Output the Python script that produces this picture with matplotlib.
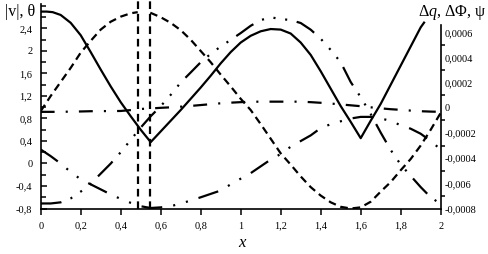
import numpy as np
import matplotlib
matplotlib.use('Agg')
import matplotlib.pyplot as plt
from matplotlib.ticker import FixedLocator, FixedFormatter, NullFormatter

plt.rcParams['font.family'] = ['Liberation Serif', 'DejaVu Serif']
plt.rcParams['mathtext.fontset'] = 'custom'
plt.rcParams['mathtext.it'] = 'Liberation Serif:italic'
plt.rcParams['mathtext.rm'] = 'Liberation Serif'
plt.rcParams['lines.scale_dashes'] = False

# ---------------- data ----------------
x_v = [0, 0.03, 0.06, 0.1, 0.15, 0.2, 0.25, 0.3, 0.35, 0.4, 0.45, 0.5, 0.55, 0.6, 0.65, 0.7,
       0.75, 0.8, 0.85, 0.9, 0.95, 1.0, 1.05, 1.1, 1.15, 1.2, 1.25, 1.3, 1.35, 1.4, 1.45,
       1.5, 1.55, 1.6, 1.65, 1.7, 1.75, 1.8, 1.85, 1.9, 1.92]
v_abs = [2.7, 2.7, 2.69, 2.64, 2.5, 2.28, 1.98, 1.67, 1.37, 1.09, 0.84, 0.6, 0.38, 0.57, 0.76, 0.95,
         1.15, 1.35, 1.56, 1.78, 1.98, 2.15, 2.27, 2.35, 2.39, 2.38, 2.31, 2.15, 1.93, 1.64, 1.33,
         1.02, 0.74, 0.45, 0.76, 1.06, 1.4, 1.74, 2.08, 2.42, 2.52]

x_theta_a = [0, 0.05, 0.1, 0.15, 0.2, 0.25, 0.3, 0.35, 0.4, 0.45, 0.485]
theta_a = [0.93, 1.2, 1.45, 1.7, 1.97, 2.18, 2.38, 2.52, 2.61, 2.67, 2.69]
x_theta_b = [0.548, 0.6, 0.65, 0.7, 0.75, 0.8, 0.85, 0.9, 0.95, 1.0, 1.05, 1.1, 1.15, 1.2,
             1.25, 1.3, 1.35, 1.4, 1.45, 1.5, 1.55, 1.6, 1.65, 1.7, 1.75, 1.8, 1.85, 1.9,
             1.95, 2.0]
theta_b = [2.68, 2.6, 2.5, 2.37, 2.2, 2.0, 1.8, 1.58, 1.37, 1.15, 0.95, 0.7, 0.44, 0.18,
           -0.02, -0.23, -0.42, -0.57, -0.69, -0.77, -0.8, -0.78, -0.68, -0.5, -0.33, -0.12,
           0.08, 0.32, 0.6, 0.9]
theta_jumps = [0.485, 0.548]

x_r = [0, 0.05, 0.1, 0.15, 0.2, 0.25, 0.3, 0.35, 0.4, 0.45, 0.5, 0.55, 0.6, 0.65, 0.7,
       0.75, 0.8, 0.85, 0.9, 0.95, 1.0, 1.05, 1.1, 1.15, 1.2, 1.25, 1.3, 1.35, 1.4, 1.45,
       1.5, 1.55, 1.6, 1.65, 1.7, 1.75, 1.8, 1.85, 1.9, 1.95, 2.0]
dPhi = [-3.2e-5, -3.2e-5, -3.2e-5, -3.0e-5, -2.9e-5, -2.7e-5, -2.6e-5, -2.6e-5, -2.5e-5, -1.8e-5,
        -0.9e-5, -0.5e-5, 0.0, 0.4e-5, 0.9e-5, 1.5e-5, 2.2e-5, 2.9e-5, 3.6e-5, 4.1e-5,
        4.5e-5, 4.8e-5, 4.9e-5, 4.9e-5, 4.9e-5, 4.9e-5, 4.9e-5, 4.5e-5, 4.0e-5, 3.4e-5,
        2.7e-5, 2.0e-5, 1.3e-5, 0.4e-5, -0.4e-5, -1.1e-5, -1.6e-5, -2.2e-5, -2.7e-5, -3.0e-5,
        -3.2e-5]
dq = [-7.60e-4, -7.60e-4, -7.51e-4, -7.20e-4, -6.66e-4, -6.03e-4, -5.23e-4, -4.43e-4, -3.53e-4,
      -2.55e-4, -1.57e-4, -0.67e-4, 0.13e-4, 1.03e-4, 2.01e-4, 2.81e-4, 3.62e-4, 4.29e-4,
      4.87e-4, 5.40e-4, 5.94e-4, 6.52e-4, 6.97e-4, 7.19e-4, 7.06e-4, 6.97e-4, 6.74e-4,
      6.21e-4, 5.49e-4, 4.60e-4, 3.62e-4, 2.05e-4, 0.85e-4, -0.49e-4, -1.97e-4, -3.35e-4,
      -4.51e-4, -5.41e-4, -6.30e-4, -7.11e-4, -7.64e-4]
psi = [-3.31e-4, -3.84e-4, -4.43e-4, -5.10e-4, -5.68e-4, -6.08e-4, -6.48e-4, -6.88e-4, -7.24e-4,
       -7.55e-4, -7.82e-4, -7.96e-4, -7.91e-4, -7.82e-4, -7.60e-4, -7.37e-4, -7.11e-4, -6.84e-4,
       -6.57e-4, -6.08e-4, -5.63e-4, -5.19e-4, -4.65e-4, -4.11e-4, -3.67e-4, -3.09e-4, -2.64e-4,
       -2.19e-4, -1.61e-4, -1.30e-4, -1.07e-4, -0.85e-4, -0.72e-4, -0.72e-4, -0.85e-4, -1.03e-4,
       -1.39e-4, -1.66e-4, -2.06e-4, -2.64e-4, -3.31e-4]

x_ticks = [0, 0.2, 0.4, 0.6, 0.8, 1.0, 1.2, 1.4, 1.6, 1.8, 2.0]
x_ticklabels = ['0', '0,2', '0,4', '0,6', '0,8', '1', '1,2', '1,4', '1,6', '1,8', '2']
yl_ticks = [-0.8, -0.4, 0, 0.4, 0.8, 1.2, 1.6, 2.0, 2.4]
yl_ticklabels = ['-0,8', '-0,4', '0', '0,4', '0,8', '1,2', '1,6', '2', '2,4']
yl_minor = [-0.6, -0.2, 0.2, 0.6, 1.0, 1.4, 1.8, 2.2, 2.6, 2.8]
yr_ticks = [0.0006, 0.0004, 0.0002, 0, -0.0002, -0.0004, -0.0006, -0.0008]
yr_ticklabels = ['0,0006', '0,0004', '0,0002', '0', '-0,0002', '-0,0004', '-0,006', '-0,0008']
yr_minor = [0.0005, 0.0003, 0.0001, -0.0001, -0.0003, -0.0005, -0.0007]

# ---------------- figure ----------------
W, H = 488, 254
fig = plt.figure(figsize=(W / 100, H / 100), dpi=100)
ax = fig.add_axes([40.7 / W, (H - 208.5) / H, 400 / W, (208.5 - 4) / H])
ax.patch.set_alpha(0)
ax.set_xlim(0, 2)
ax.set_ylim(-0.8, 2.835)
ax2 = ax.twinx()
ax2.set_ylim(-0.0008, 0.000825)

lw = 1.6
k = 'black'
ax.plot(x_v, v_abs, color=k, lw=lw, solid_capstyle='butt', solid_joinstyle='round')
dash_t = (0, (5.5, 3.5))
ax.plot(x_theta_a, theta_a, color=k, lw=lw, linestyle=dash_t, dash_capstyle='butt')
ax.plot(x_theta_b, theta_b, color=k, lw=lw, linestyle=dash_t, dash_capstyle='butt')
ax.vlines(theta_jumps, -0.8, 2.95, colors=k, lw=lw, linestyles=[dash_t], clip_on=False)

ax2.plot(x_r, dPhi, color=k, lw=lw, linestyle=(0, (10, 8, 1.5, 8)), dash_capstyle='butt')
ax2.plot(x_r, dq, color=k, lw=lw,
         linestyle=(0, (15, 7, 1.5, 7, 1.5, 7, 1.5, 7)), dash_capstyle='butt')
ax2.plot(x_r, psi, color=k, lw=lw,
         linestyle=(0, (15, 8, 1.5, 8, 1.5, 8)), dash_capstyle='butt')

# spines
for s in ['top', 'right']:
    ax.spines[s].set_visible(False)
for s in ['top', 'left', 'bottom']:
    ax2.spines[s].set_visible(False)
for s in ['left', 'bottom']:
    ax.spines[s].set_linewidth(1.2)
ax2.spines['right'].set_linewidth(1.2)
ax2.spines['right'].set_bounds(-0.0008, 0.00066)

# ticks
ax.xaxis.set_major_locator(FixedLocator(x_ticks))
ax.xaxis.set_major_formatter(FixedFormatter(x_ticklabels))
ax.tick_params(axis='x', direction='out', length=4.5, width=1.1, labelsize=7.5, pad=5)
ax.yaxis.set_major_locator(FixedLocator(yl_ticks))
ax.yaxis.set_major_formatter(FixedFormatter(yl_ticklabels))
ax.yaxis.set_minor_locator(FixedLocator(yl_minor))
ax.yaxis.set_minor_formatter(NullFormatter())
ax.tick_params(axis='y', which='major', direction='in', length=4, width=1.1, labelsize=7.5, pad=6)
ax.tick_params(axis='y', which='minor', direction='in', length=3.5, width=1.1)

ax2.yaxis.set_major_locator(FixedLocator(yr_ticks))
ax2.yaxis.set_major_formatter(FixedFormatter(yr_ticklabels))
ax2.yaxis.set_minor_locator(FixedLocator(yr_minor))
ax2.yaxis.set_minor_formatter(NullFormatter())
ax2.tick_params(axis='y', which='major', length=0, labelsize=7.5, pad=3)
ax2.tick_params(axis='y', which='minor', direction='out', length=3, width=1.1)

# axis titles
fig.text(5 / W, 1 - 12 / H, '|v|, θ', ha='left', va='center', fontsize=11.5)
fig.text(452 / W, 1 - 12 / H, r'Δ$\mathit{q}$, ΔΦ, ψ', ha='center', va='center', fontsize=11.5)
fig.text(242 / W, 1 - 243 / H, 'x', ha='center', va='center', fontsize=12, fontstyle='italic')

fig.savefig('out.png', dpi=100)
